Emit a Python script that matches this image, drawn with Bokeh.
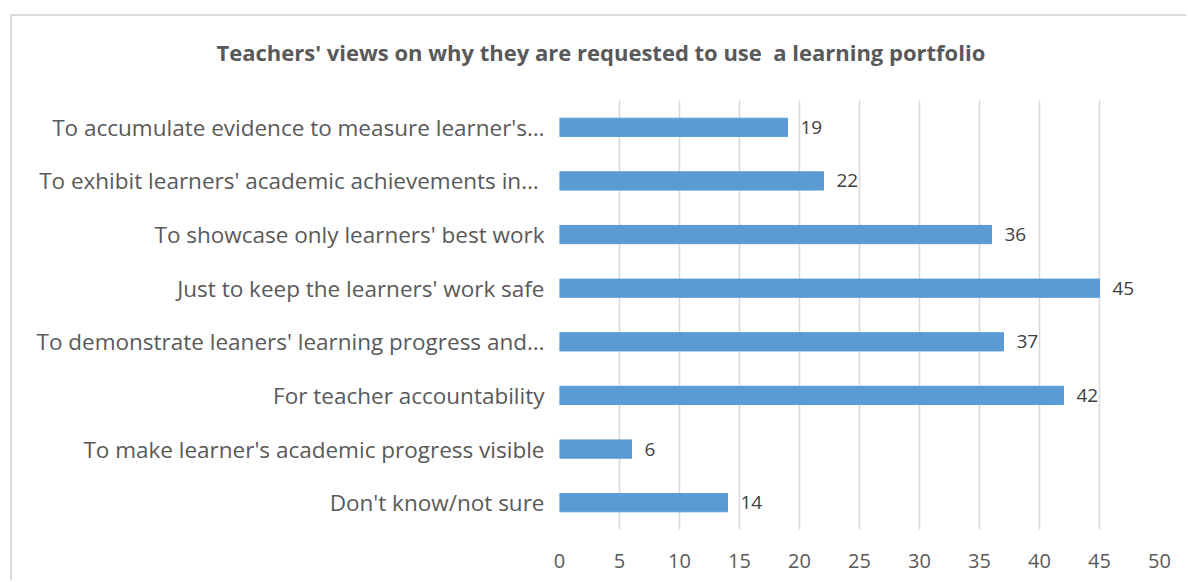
from bokeh.plotting import figure
from bokeh.models import ColumnDataSource, LabelSet, FixedTicker
from bokeh.core.properties import value
from bokeh.embed import file_html
from bokeh.resources import INLINE

categories = [
    "To accumulate evidence to measure learner's…",
    "To exhibit  learners' academic achievements in…",
    "To showcase only learners' best work",
    "Just to keep the learners' work safe",
    "To demonstrate leaners' learning progress and…",
    "For teacher accountability",
    "To make learner's academic progress visible",
    "Don't know/not sure",
]
values = [19, 22, 36, 45, 37, 42, 6, 14]
x_ticks = [0, 5, 10, 15, 20, 25, 30, 35, 40, 45, 50]
title_text = "Teachers' views on why they are requested to use\u00a0 a learning portfolio"

FONT = "Open Sans"
TEXT_COLOR = "#595959"

source = ColumnDataSource(dict(cat=categories, val=values, lbl=[str(v) for v in values]))

p = figure(
    y_range=list(reversed(categories)),
    x_range=(0, 50),
    width=1176, height=580,
    output_backend="svg", toolbar_location=None,
    min_border_left=547, min_border_top=100, min_border_right=29, min_border_bottom=51,
    title=title_text,
    styles={"margin-left": "10px", "margin-top": "0px", "padding-left": "2px",
            "background": ("linear-gradient(#d9d9d9, #d9d9d9) 0 14px / 100% 2px no-repeat, "
                           "linear-gradient(#d9d9d9, #d9d9d9) 0 14px / 2px 100% no-repeat, white")},
)

p.hbar(y="cat", right="val", left=0, height=0.34, source=source,
       fill_color="#5b9bd5", line_color="#5b9bd5")

labels = LabelSet(x="val", y="cat", text="lbl", source=source, x_offset=13,
                  text_baseline="middle", text_font=value(FONT), text_font_size="19px",
                  text_color="#404040")
p.add_layout(labels)

p.title.text_font = FONT
p.title.text_font_size = "22px"
p.title.text_font_style = "bold"
p.title.text_color = TEXT_COLOR
p.title.align = "left"
p.title.offset = -343
p.title.standoff = 68

p.outline_line_color = None
p.ygrid.grid_line_color = None
p.xgrid.grid_line_color = "#d9d9d9"
p.xgrid.grid_line_width = 1.5

p.xaxis.ticker = FixedTicker(ticks=x_ticks)
p.xaxis.axis_line_color = None
p.xaxis.major_tick_line_color = None
p.xaxis.minor_tick_line_color = None
p.xaxis.major_label_text_font = FONT
p.xaxis.major_label_text_font_size = "20px"
p.xaxis.major_label_text_color = TEXT_COLOR
p.xaxis.major_label_standoff = 18

p.yaxis.axis_line_color = None
p.yaxis.major_tick_line_color = None
p.yaxis.minor_tick_line_color = None
p.yaxis.major_label_text_font = FONT
p.yaxis.major_label_text_font_size = "22.5px"
p.yaxis.major_label_text_color = TEXT_COLOR
p.yaxis.major_label_standoff = 9

p.background_fill_color = "white"
p.border_fill_color = None

open("out.html", "w").write(file_html(p, INLINE))
